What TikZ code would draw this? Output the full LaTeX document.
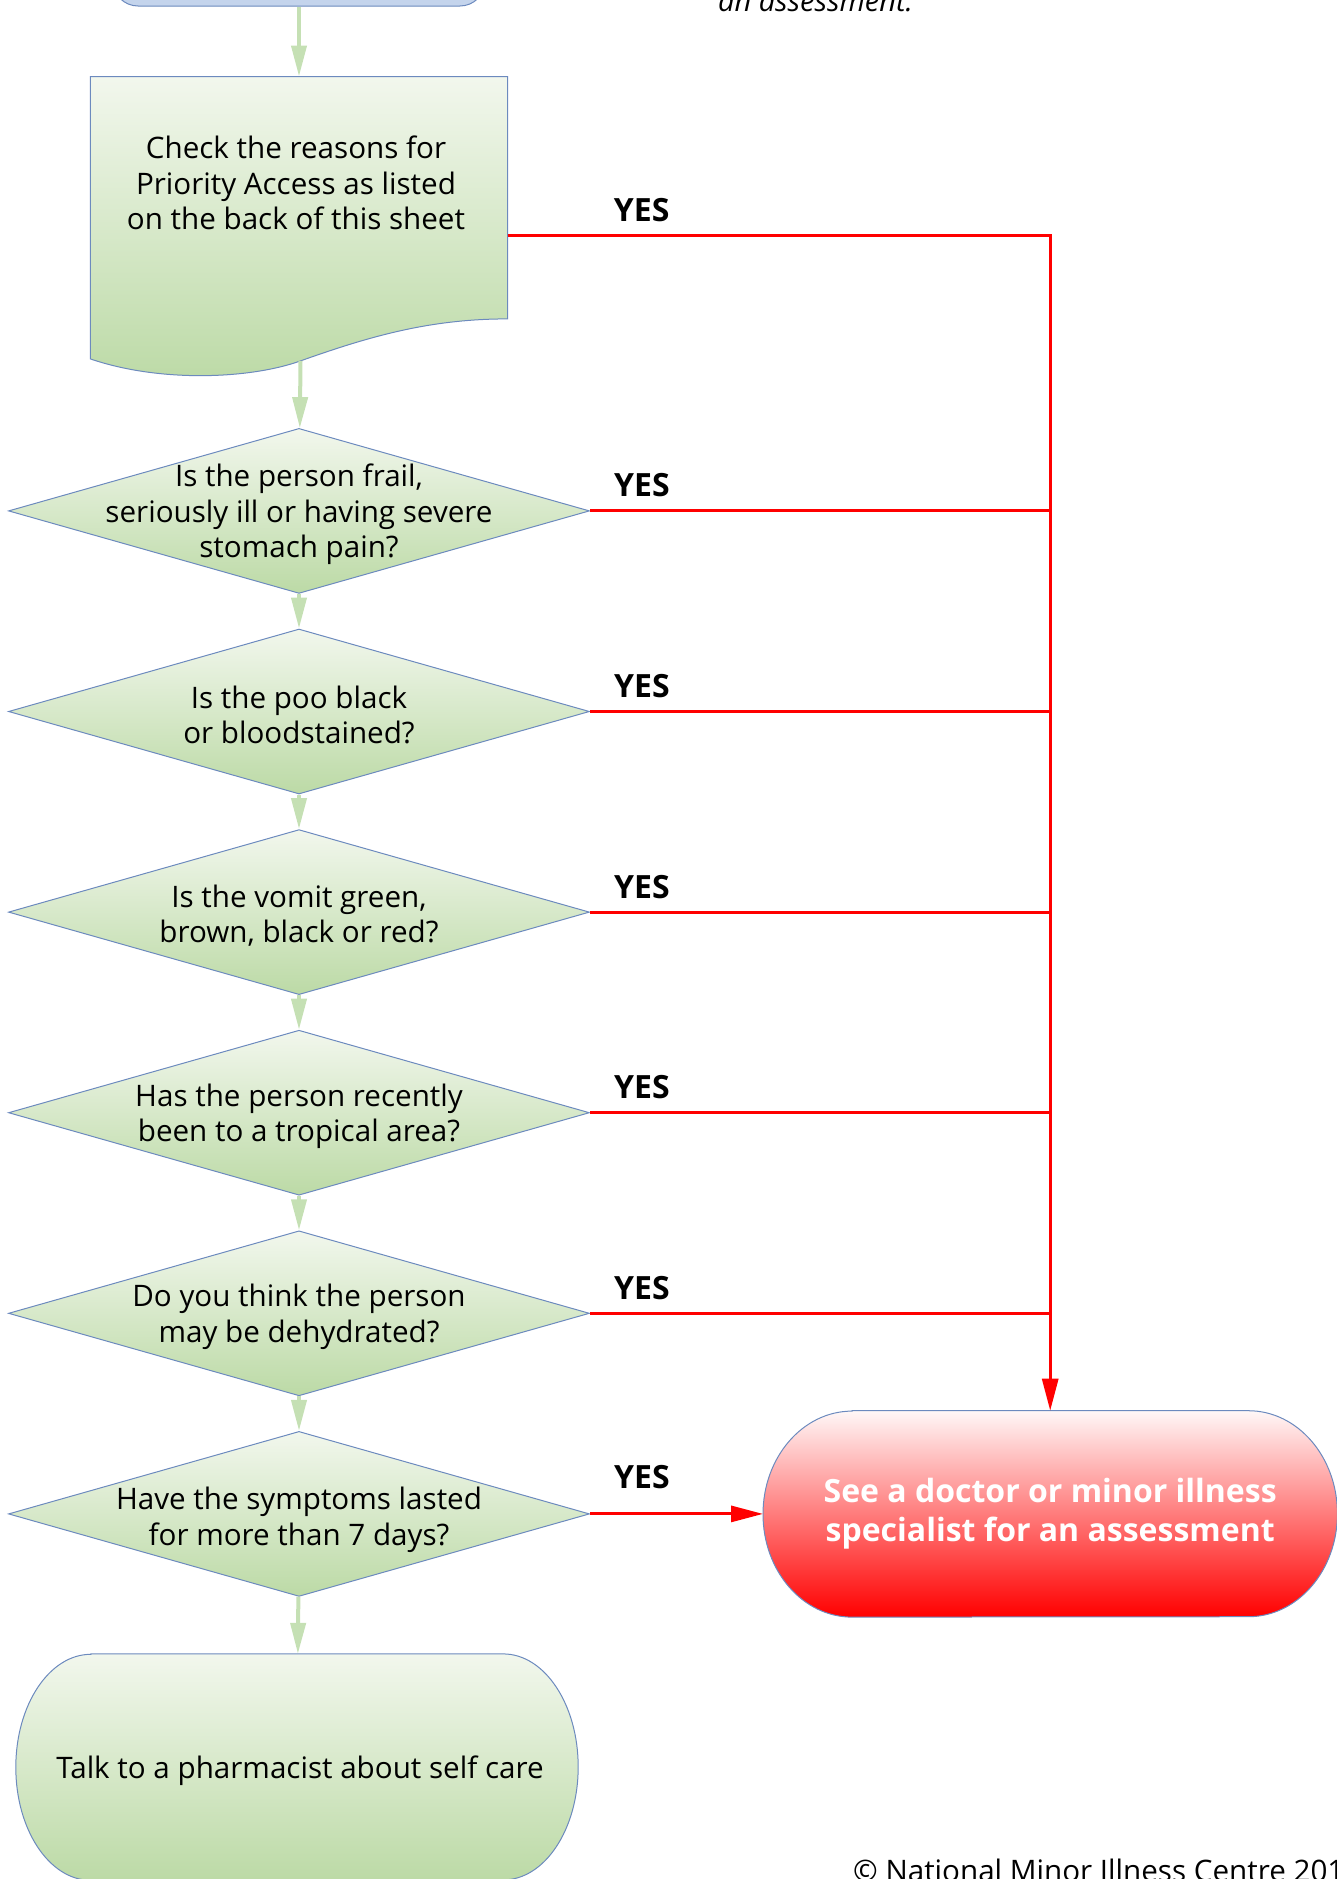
\documentclass[tikz,border=0pt]{standalone}
\usepackage{fontspec}
\setmainfont{Open Sans}
\usetikzlibrary{positioning, shapes.geometric, arrows.meta, backgrounds}
\definecolor{boxtop}{RGB}{242,247,237}
\definecolor{boxbottom}{RGB}{188,218,166}
\definecolor{boxline}{RGB}{108,138,190}
\definecolor{flowgreen}{RGB}{197,224,180}
\definecolor{startblue}{RGB}{196,212,236}
\newcommand\termpath[3]{([xshift=#2]#1.north west) -- ([xshift=-#2]#1.north east) arc[start angle=90, end angle=-90, x radius=#2, y radius=#3] -- ([xshift=#2]#1.south west) arc[start angle=270, end angle=90, x radius=#2, y radius=#3] -- cycle}

\begin{document}
\begin{tikzpicture}[x=1pt, y=1pt, node distance=34.6pt,
	every node/.style={font=\fontsize{29.6}{35.5}\selectfont},
	qtext/.style={align=center, inner sep=0pt, yshift=-3.5pt},
	outline/.style={draw=boxline, line width=1pt},
	greenfill/.style={outline, top color=boxtop, bottom color=boxbottom},
	decision/.style={diamond, greenfill, minimum width=581pt, minimum height=165pt, inner sep=0pt},
	flow/.style={draw=flowgreen, line width=4pt, -{Triangle[length=31pt, width=15pt]}},
	yesline/.style={draw=red, line width=3pt},
	yesarrow/.style={yesline, -{Triangle[length=32pt, width=16pt]}},
	yes/.style={font=\fontsize{32}{38}\selectfont\bfseries, anchor=base, inner sep=0pt}]
	\useasboundingbox (0,0) rectangle (1337,-1879);
	\node[outline, fill=startblue, rounded corners=25pt, minimum width=372pt, minimum height=72pt] (start) at (299,30) {};
	\node[anchor=base west, inner sep=0pt, font=\fontsize{29}{34}\selectfont\itshape] (note) at (718,-12) {an assessment.};
	\node[minimum width=417pt, minimum height=242pt, inner sep=0pt, label={[qtext, shift={(-3pt,18pt)}]center:{Check the reasons for\\Priority Access as listed\\on the back of this sheet}}] (chk) [below=70pt of start] {};
	\coordinate (chkb) at ([shift={(1.5pt,-42pt)}]chk.south);
	\node[decision, label={[qtext]center:{Is the person frail,\\seriously ill or having severe\\stomach pain?}}] (d1) [below=109pt of chk] {};
	\node[decision, label={[qtext]center:{Is the poo black\\or bloodstained?}}] (d2) [below=of d1] {};
	\node[decision, label={[qtext]center:{Is the vomit green,\\brown, black or red?}}] (d3) [below=of d2] {};
	\node[decision, label={[qtext]center:{Has the person recently\\been to a tropical area?}}] (d4) [below=of d3] {};
	\node[decision, label={[qtext]center:{Do you think the person\\may be dehydrated?}}] (d5) [below=of d4] {};
	\node[decision, label={[qtext, yshift=-2.5pt]center:{Have the symptoms lasted\\for more than 7 days?}}] (d6) [below=of d5] {};
	\node[minimum width=562pt, minimum height=226pt, inner sep=0pt, label={[qtext, xshift=3pt]center:{Talk to a pharmacist about self care}}] (care) [below=57pt of d6, xshift=-2pt] {};
	\node[minimum width=574pt, minimum height=206pt, inner sep=0pt, align=center, text=white, font=\fontsize{32}{39}\selectfont\bfseries] (see) [right=173pt of d6] {See a doctor or minor illness\\specialist for an assessment};
	\node[anchor=base west, inner sep=0pt, font=\fontsize{29.6}{34}\selectfont] (copy) at (853,-1881) {© National Minor Illness Centre 201};
	\begin{scope}[on background layer]
		\draw[greenfill] (chk.north west) -- (chk.north east) -- (chk.south east) .. controls ([xshift=-77pt]chk.south east) and ([shift={(-137pt,-17pt)}]chk.south east) .. (chkb) .. controls ([shift={(-50pt,-18pt)}]chkb) and ([shift={(-140pt,-22pt)}]chkb) .. ([yshift=-40pt]chk.south west) -- cycle;
		\draw[greenfill] \termpath{care}{75pt}{113pt};
		\draw[outline, top color=red!3, bottom color=red] \termpath{see}{89pt}{103pt};
	\end{scope}
	\draw[flow] (start) -- (chk);
	\draw[flow] (chkb) -- (d1);
	\draw[flow] (d1) -- (d2); \draw[flow] (d2) -- (d3); \draw[flow] (d3) -- (d4);
	\draw[flow] (d4) -- (d5); \draw[flow] (d5) -- (d6); \draw[flow] (d6) -- (care);
	\draw[yesarrow] ([yshift=-38pt]chk.east) -| (see);
	\node[yes] (y0) at ([shift={(134pt,-24pt)}]chk.east) {YES};
	\draw[yesline] (d1.east) -- (d1.east -| see); \node[yes] (y1) at ([shift={(52pt,14pt)}]d1.east) {YES};
	\draw[yesline] (d2.east) -- (d2.east -| see); \node[yes] (y2) at ([shift={(52pt,14pt)}]d2.east) {YES};
	\draw[yesline] (d3.east) -- (d3.east -| see); \node[yes] (y3) at ([shift={(52pt,14pt)}]d3.east) {YES};
	\draw[yesline] (d4.east) -- (d4.east -| see); \node[yes] (y4) at ([shift={(52pt,14pt)}]d4.east) {YES};
	\draw[yesline] (d5.east) -- (d5.east -| see); \node[yes] (y5) at ([shift={(52pt,14pt)}]d5.east) {YES};
	\draw[yesarrow] (d6.east) -- (see); \node[yes] (y6) at ([shift={(52pt,25pt)}]d6.east) {YES};
\end{tikzpicture}
\end{document}
